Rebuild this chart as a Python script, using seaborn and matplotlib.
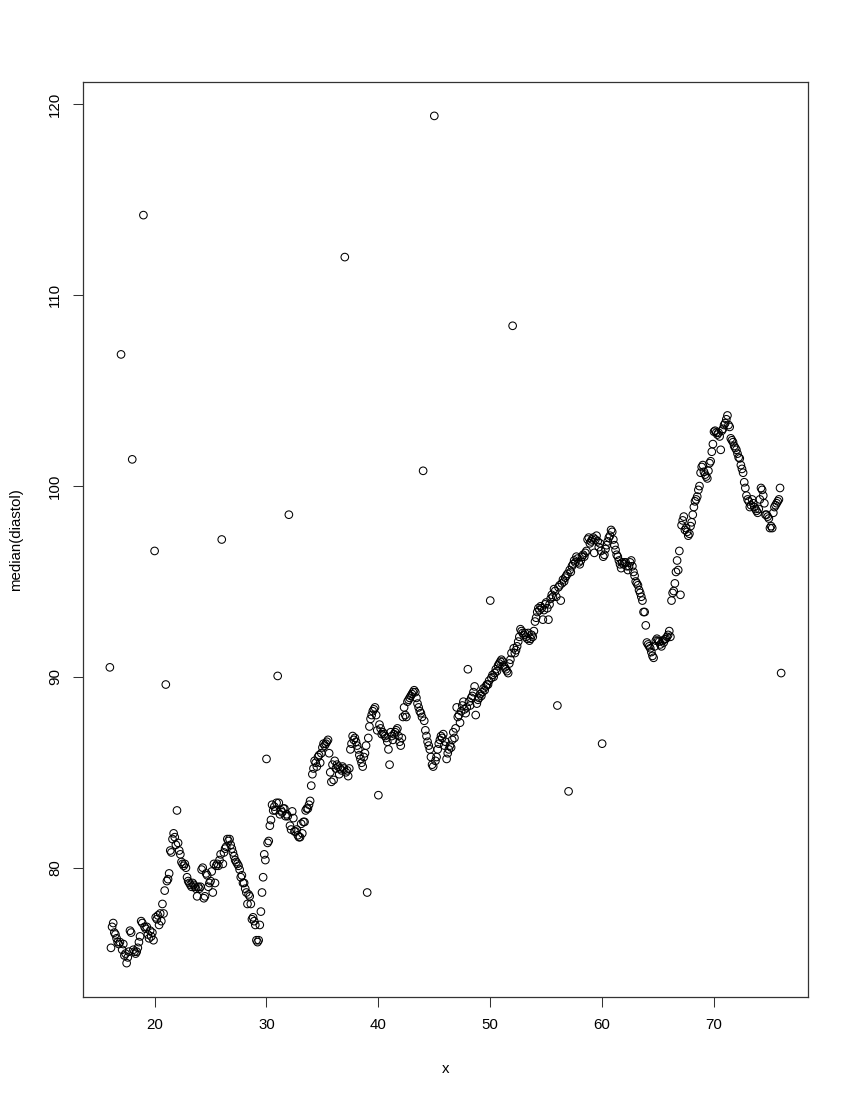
import numpy as np
import pandas as pd
import matplotlib
matplotlib.use("Agg")
import matplotlib.pyplot as plt
import seaborn as sns


# median diastolic pressure, one row per year of age,
# ten values per row (age + 0.0 ... age + 0.9)
DIASTOL_BY_YEAR = {
    16: [90.5, 75.8, 76.9, 77.1, 76.6, 76.5, 76.3, 76.1, 76.0, 76.1],
    17: [106.9, 75.7, 76.0, 75.4, 75.5, 75.0, 75.3, 75.6, 76.7, 76.6],
    18: [101.4, 75.7, 75.6, 75.5, 75.6, 75.8, 76.1, 76.4, 77.2, 77.1],
    19: [114.2, 76.9, 76.8, 76.9, 76.5, 76.3, 76.7, 76.4, 76.6, 76.2],
    20: [96.6, 77.4, 77.3, 77.5, 77.0, 77.6, 77.2, 78.1, 77.6, 78.8],
    21: [89.6, 79.3, 79.4, 79.7, 80.9, 80.8, 81.5, 81.8, 81.6, 81.2],
    22: [83.0, 81.3, 80.9, 80.7, 80.3, 80.2, 80.1, 80.2, 80.0, 79.5],
    23: [79.3, 79.2, 79.1, 79.0, 79.2, 79.1, 79.0, 78.9, 78.5, 79.0],
    24: [78.9, 79.0, 79.9, 80.0, 78.4, 78.5, 79.7, 79.6, 79.0, 79.2],
    25: [79.3, 79.8, 78.7, 80.2, 79.2, 80.1, 80.2, 80.1, 80.4, 80.7],
    26: [97.2, 80.2, 80.8, 81.0, 81.1, 81.5, 81.4, 81.5, 81.2, 81.0],
    27: [80.8, 80.6, 80.4, 80.3, 80.2, 80.1, 79.9, 79.5, 79.6, 79.2],
    28: [79.2, 78.9, 78.7, 78.1, 78.6, 78.5, 78.1, 77.3, 77.4, 77.2],
    29: [77.0, 76.2, 76.1, 76.2, 77.0, 77.7, 78.7, 79.5, 80.7, 80.4],
    30: [85.7, 81.3, 81.4, 82.2, 82.5, 83.3, 83.0, 83.2, 83.0, 83.4],
    31: [90.05, 83.4, 82.8, 83.0, 82.9, 83.1, 83.1, 82.7, 82.8, 82.7],
    32: [98.5, 82.2, 82.0, 82.95, 82.6, 81.9, 81.9, 82.0, 81.7, 81.6],
    33: [81.6, 82.3, 81.8, 82.4, 82.4, 83.0, 83.1, 83.1, 83.3, 83.5],
    34: [84.3, 84.9, 85.2, 85.6, 85.5, 85.3, 85.8, 85.9, 85.5, 86.0],
    35: [86.3, 86.5, 86.4, 86.5, 86.6, 86.7, 86.0, 85.0, 84.5, 85.4],
    36: [84.6, 85.6, 85.2, 85.4, 85.3, 84.9, 85.2, 85.1, 85.3, 85.2],
    37: [112.0, 85.0, 85.1, 84.8, 85.2, 86.2, 86.5, 86.9, 86.7, 86.8],
    38: [86.6, 86.4, 86.2, 85.9, 85.7, 85.5, 85.3, 85.8, 86.0, 86.4],
    39: [78.7, 86.8, 87.4, 87.8, 88.0, 88.2, 88.3, 88.4, 88.0, 87.2],
    40: [83.8, 87.5, 87.3, 87.0, 87.1, 87.0, 86.9, 86.8, 86.6, 86.2],
    41: [85.4, 87.1, 86.9, 86.7, 87.0, 87.1, 87.2, 87.3, 86.9, 86.6],
    42: [86.4, 86.8, 87.9, 88.4, 88.0, 87.9, 88.7, 88.8, 88.9, 89.0],
    43: [89.1, 89.2, 89.3, 89.2, 88.9, 88.6, 88.4, 88.2, 88.1, 87.9],
    44: [100.8, 87.7, 87.2, 86.9, 86.6, 86.4, 86.2, 85.8, 85.4, 85.3],
    45: [119.4, 85.6, 85.8, 86.2, 86.5, 86.7, 86.9, 86.8, 87.0, 86.4],
    46: [86.6, 85.7, 86.0, 86.2, 86.4, 86.3, 86.7, 87.1, 86.8, 87.3],
    47: [88.4, 87.9, 88.0, 87.6, 88.2, 88.5, 88.7, 88.3, 88.1, 88.4],
    48: [90.4, 88.7, 88.5, 88.9, 89.0, 89.2, 89.5, 88.0, 88.6, 88.8],
    49: [88.9, 89.1, 89.0, 89.2, 89.4, 89.3, 89.5, 89.6, 89.6, 89.8],
    50: [94.0, 89.95, 90.1, 90.0, 90.2, 90.4, 90.3, 90.6, 90.7, 90.8],
    51: [90.9, 90.8, 90.6, 90.5, 90.4, 90.3, 90.2, 90.7, 90.9, 91.25],
    52: [108.4, 91.5, 91.25, 91.4, 91.6, 91.85, 92.1, 92.5, 92.4, 92.3],
    53: [92.2, 92.3, 92.1, 92.0, 92.3, 91.9, 92.0, 92.2, 92.1, 92.4],
    54: [92.9, 93.1, 93.4, 93.6, 93.5, 93.7, 93.6, 93.0, 93.5, 93.8],
    55: [93.9, 93.6, 93.0, 93.8, 94.1, 94.3, 94.2, 94.6, 94.5, 94.2],
    56: [88.5, 94.7, 94.8, 94.0, 94.9, 95.1, 95.0, 95.2, 95.3, 95.4],
    57: [84.0, 95.6, 95.5, 95.8, 95.9, 96.1, 96.0, 96.3, 96.2, 96.0],
    58: [95.9, 96.1, 96.3, 96.4, 96.3, 96.5, 96.6, 97.2, 97.3, 97.0],
    59: [97.1, 97.2, 97.3, 96.5, 97.2, 97.4, 97.1, 96.8, 97.0, 96.6],
    60: [86.5, 96.3, 96.4, 96.7, 96.9, 97.1, 97.3, 97.4, 97.7, 97.6],
    61: [97.2, 96.9, 96.65, 96.4, 96.3, 96.1, 95.9, 95.7, 96.0, 95.9],
    62: [96.0, 96.0, 95.8, 95.6, 95.8, 96.0, 96.1, 95.8, 95.5, 95.3],
    63: [95.0, 94.9, 94.8, 94.55, 94.4, 94.2, 94.0, 93.4, 93.4, 92.7],
    64: [91.8, 91.7, 91.6, 91.5, 91.3, 91.1, 91.0, 91.6, 91.9, 92.0],
    65: [91.9, 91.85, 91.7, 91.6, 91.9, 91.8, 91.97, 92.0, 92.1, 92.2],
    66: [92.4, 92.1, 94.0, 94.4, 94.5, 94.9, 95.5, 96.1, 95.6, 96.6],
    67: [94.3, 97.95, 98.2, 98.4, 97.7, 97.8, 97.6, 97.4, 97.5, 97.9],
    68: [98.1, 98.5, 98.9, 99.2, 99.3, 99.45, 99.8, 100.0, 100.7, 101.0],
    69: [101.1, 100.75, 100.6, 100.5, 100.4, 100.8, 101.2, 101.3, 101.8, 102.2],
    70: [102.85, 102.9, 102.8, 102.7, 102.8, 102.6, 101.9, 102.9, 103.0, 103.2],
    71: [103.3, 103.5, 103.7, 103.2, 103.1, 102.5, 102.4, 102.3, 102.1, 102.0],
    72: [101.9, 101.7, 101.5, 101.45, 101.1, 100.9, 100.7, 100.2, 99.9, 99.5],
    73: [99.3, 99.2, 98.9, 99.0, 99.3, 99.1, 98.9, 98.8, 98.7, 98.6],
    74: [98.8, 99.3, 99.9, 99.8, 99.5, 99.1, 98.5, 98.5, 98.4, 98.3],
    75: [97.8, 97.9, 97.8, 98.6, 98.9, 99.0, 99.1, 99.2, 99.3, 99.9],
    76: [90.2],
}

X_TICKS = [20, 30, 40, 50, 60, 70]
Y_TICKS = [80, 90, 100, 110, 120]


def build_frame(by_year: dict) -> pd.DataFrame:
    """Flattens the per-year rows into (x, median_diastol) pairs on a 0.1 grid."""
    rows = []
    for year, values in by_year.items():
        for i, v in enumerate(values):
            rows.append((round(year + i / 10, 1), v))
    return pd.DataFrame(rows, columns=["x", "median_diastol"])


def padded(lo, hi, frac=0.04):
    """R-style axis range: data range widened by 4% on each side."""
    span = hi - lo
    return lo - frac * span, hi + frac * span


df = build_frame(DIASTOL_BY_YEAR)

sns.set_style("ticks")
plt.rcParams["font.family"] = ["Liberation Sans", "DejaVu Sans"]
plt.rcParams["text.color"] = "black"
plt.rcParams["axes.labelcolor"] = "black"
plt.rcParams["xtick.labelcolor"] = "black"
plt.rcParams["ytick.labelcolor"] = "black"

fig = plt.figure(figsize=(8.5, 11), dpi=100)
ax = fig.add_axes([83 / 850, 103 / 1100, 725 / 850, 915 / 1100])

sns.scatterplot(
    data=df,
    x="x",
    y="median_diastol",
    marker="o",
    s=30,
    facecolors="none",
    edgecolor="black",
    linewidth=0.75,
    ax=ax,
)

ax.set_xlim(*padded(df["x"].min(), df["x"].max()))
ax.set_ylim(*padded(df["median_diastol"].min(), df["median_diastol"].max()))
ax.set_xticks(X_TICKS)
ax.set_yticks(Y_TICKS)

for side in ["top", "right", "bottom", "left"]:
    ax.spines[side].set_visible(True)
    ax.spines[side].set_color("#333333")
    ax.spines[side].set_linewidth(0.9)

ax.tick_params(axis="both", direction="out", length=7.2, width=0.75,
               color="#333333", labelcolor="black", labelsize=10.8, pad=8)
plt.setp(ax.get_yticklabels(), rotation=90, va="center")

ax.set_xlabel("x", fontsize=10.8, color="black")
ax.set_ylabel("median(diastol)", fontsize=10.8, color="black")
ax.xaxis.set_label_coords(0.5, -0.071)
ax.yaxis.set_label_coords(-0.083, 0.5)

fig.savefig("out.png", dpi=100)
